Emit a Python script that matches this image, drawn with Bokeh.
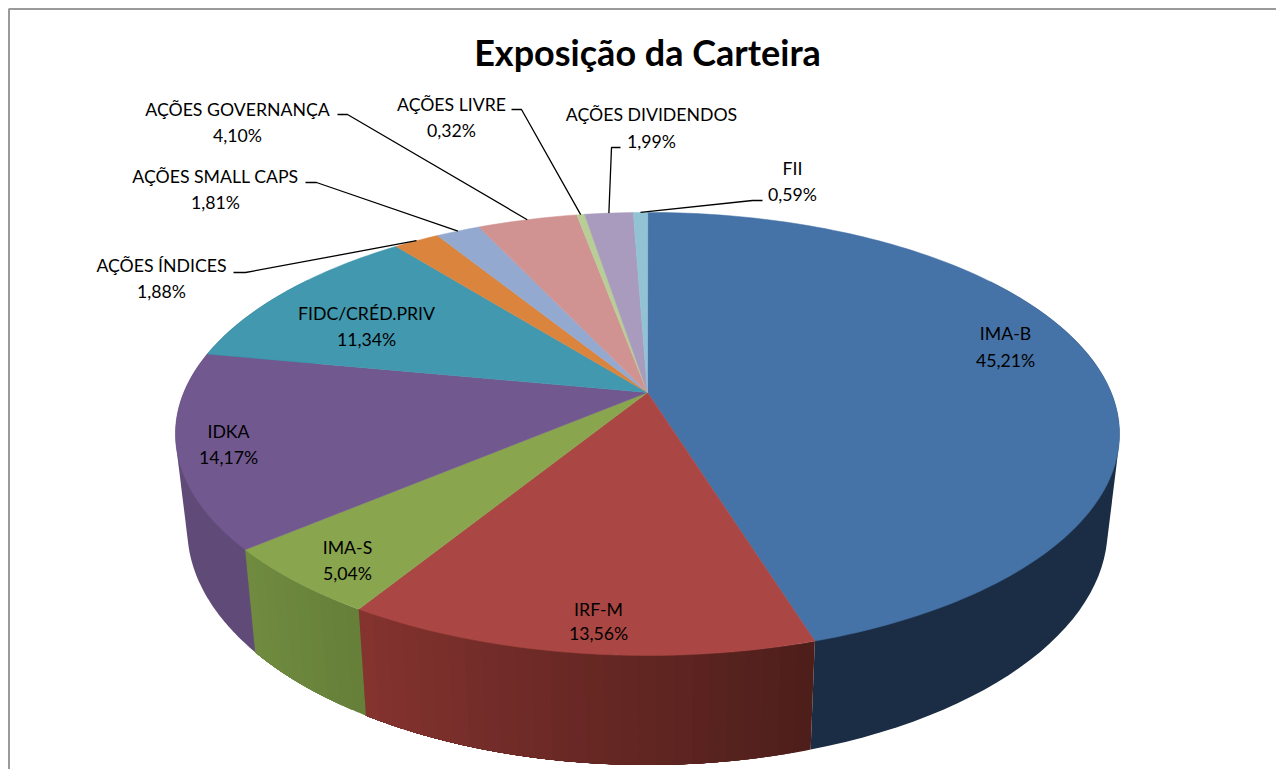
import math
from bokeh.plotting import figure
from bokeh.models import Range1d
from bokeh.core.properties import value
from bokeh.embed import file_html
from bokeh.resources import INLINE

categories = ["IMA-B", "IRF-M", "IMA-S", "IDKA", "FIDC/CRÉD.PRIV", "AÇÕES ÍNDICES",
              "AÇÕES SMALL CAPS", "AÇÕES GOVERNANÇA", "AÇÕES LIVRE", "AÇÕES DIVIDENDOS", "FII"]
shares = [45.21, 13.56, 5.04, 14.17, 11.34, 1.88, 1.81, 4.10, 0.32, 1.99, 0.59]
share_labels = ["45,21%", "13,56%", "5,04%", "14,17%", "11,34%", "1,88%", "1,81%", "4,10%", "0,32%", "1,99%", "0,59%"]
top_colors = ["#4572a7", "#aa4643", "#89a54e", "#71588f", "#4198af", "#db843d",
              "#93a9cf", "#d19392", "#b9cd96", "#a99bbd", "#92c3d4"]
wall_start = ["#1b2d44", "#4d1e1b", "#667f39", "#5f4a78", "#2f6f82", "#a5632e",
              "#6e7f9b", "#9d6f6e", "#8b9a71", "#7f748e", "#6e929f"]
wall_end = ["#1b2d44", "#85332f", "#708c40", "#5f4a78", "#2f6f82", "#a5632e",
            "#6e7f9b", "#9d6f6e", "#8b9a71", "#7f748e", "#6e929f"]

label_centers = [(1005, 333), (598, 609), (347, 547), (228, 431), (366, 313), (161, 265),
                 (215, 176), (237, 109), (451, 104), (651, 114), (792, 168)]
line_gap = [27, 24, 26, 26, 26, 26, 26, 26, 26, 27, 26]
leaders = {5: [(233, 272), (245, 272)], 6: [(305, 182), (316, 182)], 7: [(337, 114), (347, 114)],
           8: [(511, 109), (521, 109)], 9: [(620, 147), (611, 147)], 10: [(762, 200), (752, 200)]}

CX, CY, RX, RY, A = 647.0, 392.0, 463.7, 213.8, 0.187
BOT_RX, BOT_RY, BOT_Y = 0.975 * RX, 228.0, 484.0
FONT = "Lato"


def rim(pct):
    t = 2 * math.pi * pct / 100.0
    w = 1 + A * math.cos(t)
    return CX + RX * math.sin(t) / w, CY - RY * math.cos(t) / w


def bottom(pct):
    t = 2 * math.pi * pct / 100.0
    w = 1 + A * math.cos(t)
    return CX + BOT_RX * math.sin(t) / w, BOT_Y - BOT_RY * math.cos(t) / w


def mix(c1, c2, f):
    a = [int(c1[i:i + 2], 16) for i in (1, 3, 5)]
    b = [int(c2[i:i + 2], 16) for i in (1, 3, 5)]
    return "#%02x%02x%02x" % tuple(round(x + (y - x) * f) for x, y in zip(a, b))


def hull(points):
    pts = sorted(set(points))

    def half(seq):
        out = []
        for q in seq:
            while len(out) > 1 and ((out[-1][0] - out[-2][0]) * (q[1] - out[-2][1])
                                    - (out[-1][1] - out[-2][1]) * (q[0] - out[-2][0])) <= 0:
                out.pop()
            out.append(q)
        return out[:-1]

    return half(pts) + half(pts[::-1])


p = figure(width=1276, height=769, output_backend="svg", toolbar_location=None,
           x_range=Range1d(0, 1276), y_range=Range1d(769, 0), min_border=0,
           background_fill_color="white", border_fill_color="white")
p.axis.visible = False
p.grid.visible = False
p.outline_line_color = None

p.line([8.5, 8.5, 1276], [769, 8.5, 8.5], line_color="#9a9a9a", line_width=2)

# side walls: each step runs on to the end of its slice, so later steps paint over it without seams
cum = 0.0
wx, wy, wc = [], [], []
edges = []
for s, c0, c1 in zip(shares, wall_start, wall_end):
    edges.append((cum, cum + s))
    n = 1 if c0 == c1 else max(2, int(s * 2))
    for k in range(n):
        a = cum + s * k / n
        pcts = [a + (cum + s - a) * j / 80 for j in range(81)]
        pcts = [q for q in pcts if 15 < q < 85]
        if len(pcts) < 2:
            continue
        if n == 1:
            # a single shade: the outer edge is the hull of both rims, as in a solid cylinder
            ring = hull([rim(q) for q in pcts] + [bottom(q) for q in pcts])
        else:
            ring = [rim(q) for q in pcts] + [bottom(q) for q in reversed(pcts)]
        wx.append([q[0] for q in ring])
        wy.append([q[1] for q in ring])
        wc.append(mix(c0, c1, (k + 0.5) / n))
    cum += s
p.patches(wx, wy, fill_color=wc, line_color=None)

# top face
fx, fy = [], []
for a, b in edges:
    n = max(3, int((b - a) * 3))
    pts = [rim(a + (b - a) * k / n) for k in range(n + 1)]
    fx.append([CX] + [q[0] for q in pts])
    fy.append([CY] + [q[1] for q in pts])
p.patches(fx, fy, fill_color=top_colors, line_color=top_colors, line_width=0.5)

# leader lines
for i, knee in leaders.items():
    a, b = edges[i]
    e = rim((a + b) / 2)
    p.line([q[0] for q in knee] + [e[0]], [q[1] for q in knee] + [e[1]],
           line_color="#000000", line_width=1.3)

# labels
xs, ys, ts = [], [], []
for name, pct, (x, y), gap in zip(categories, share_labels, label_centers, line_gap):
    xs += [x, x]
    ys += [y, y + gap]
    ts += [name, pct]
p.text(xs, ys, text=ts, text_font=value(FONT), text_font_size="17.7px", text_color="#000000",
       text_align="center", text_baseline="middle")
p.text([647], [51], text=["Exposição da Carteira"], text_font=value(FONT), text_font_size="36px",
       text_font_style="bold", text_color="#000000", text_align="center", text_baseline="middle")

open("out.html", "w").write(file_html(p, INLINE))
